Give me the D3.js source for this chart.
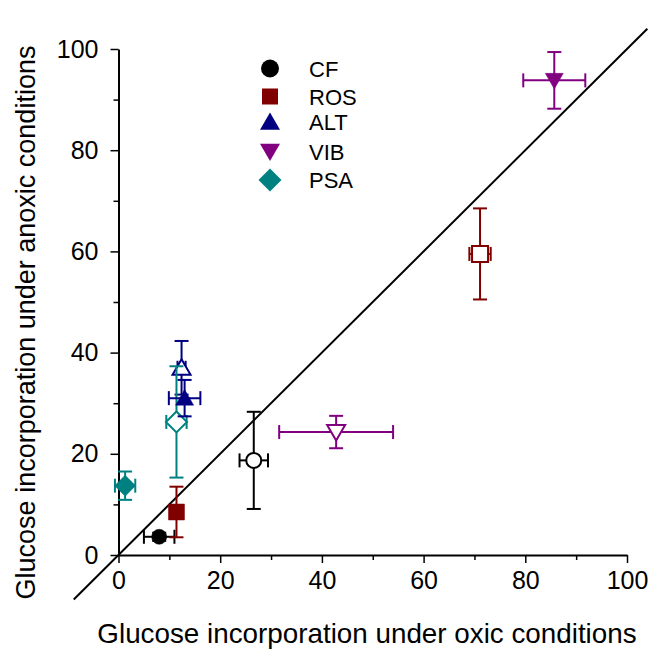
<!DOCTYPE html>
<html>
<head>
<meta charset="utf-8">
<script src="https://cdn.jsdelivr.net/npm/d3@7/dist/d3.min.js"></script>
<style>
  html, body { margin: 0; padding: 0; background: #ffffff; }
  svg { display: block; }
  text { font-family: "Liberation Sans", Arial, sans-serif; fill: #000; }
</style>
</head>
<body>
<svg id="chart" width="652" height="652"></svg>
<script>
// ---- Data ----
const groups = ["CF", "ROS", "ALT", "VIB", "PSA"];
const groupColors = ["#000000", "#800000", "#000080", "#800080", "#008080"];
const groupShapes = ["circle", "square", "triangleUp", "triangleDown", "diamond"];

// Filled symbols
const filledX    = [8.0, 11.4, 13.0, 85.7, 1.3];
const filledXErr = [3.0, 1.0, 3.1, 6.1, 2.0];
const filledY    = [3.6, 8.5, 31.0, 93.8, 13.7];
const filledYErr = [0.8, 5.0, 3.6, 5.6, 2.8];

// Open symbols
const openX    = [26.6, 71.1, 12.4, 42.8, 11.4];
const openXErr = [2.8, 2.1, 0.8, 11.2, 2.0];
const openY    = [18.7, 59.5, 37.0, 24.3, 26.3];
const openYErr = [9.6, 9.0, 5.3, 3.2, 11.0];

const xTicks = [0, 20, 40, 60, 80, 100];
const yTicks = [0, 20, 40, 60, 80, 100];
const xMinorTicks = [10, 30, 50, 70, 90];
const yMinorTicks = [10, 30, 50, 70, 90];
const oneToOne = [-8.8, 104];

const xTitle = "Glucose incorporation under oxic conditions";
const yTitle = "Glucose incorporation under anoxic conditions";

// ---- Layout ----
const svg = d3.select("#chart");
const x = d3.scaleLinear().domain([0, 100]).range([118.5, 627]);
const y = d3.scaleLinear().domain([0, 100]).range([555, 49]);

// custom symbol types (size = width in px)
const shapeTypes = {
  circle: { draw(ctx, s) { const r = s / 2; ctx.moveTo(r, 0); ctx.arc(0, 0, r, 0, 2 * Math.PI); } },
  square: { draw(ctx, s) { const h = s / 2; ctx.rect(-h, -h, s, s); } },
  triangleUp: { draw(ctx, s) { const h = s * Math.sqrt(3) / 2; ctx.moveTo(0, -h * 0.55); ctx.lineTo(s / 2, h * 0.45); ctx.lineTo(-s / 2, h * 0.45); ctx.closePath(); } },
  triangleDown: { draw(ctx, s) { const h = s * Math.sqrt(3) / 2; ctx.moveTo(0, h * 0.55); ctx.lineTo(s / 2, -h * 0.45); ctx.lineTo(-s / 2, -h * 0.45); ctx.closePath(); } },
  diamond: { draw(ctx, s) { const h = s / 2; ctx.moveTo(0, -h); ctx.lineTo(h, 0); ctx.lineTo(0, h); ctx.lineTo(-h, 0); ctx.closePath(); } }
};
const markerSize = { circle: 15, square: 16, triangleUp: 18, triangleDown: 18, diamond: 21 };
const legendSize = { circle: 18, square: 16, triangleUp: 20, triangleDown: 20, diamond: 23 };

// 1:1 line
svg.append("line")
  .attr("x1", x(oneToOne[0])).attr("y1", y(oneToOne[0]))
  .attr("x2", x(oneToOne[1])).attr("y2", y(oneToOne[1]))
  .attr("stroke", "#000").attr("stroke-width", 2);

// Axes
const fontTick = "25px";
const gx = svg.append("g").attr("transform", `translate(0,${y(0)})`)
  .call(d3.axisBottom(x).tickValues(xTicks).tickSize(8).tickSizeOuter(0).tickPadding(8).tickFormat(d3.format("d")));
const gxm = svg.append("g").attr("transform", `translate(0,${y(0)})`)
  .call(d3.axisBottom(x).tickValues(xMinorTicks).tickSize(5).tickSizeOuter(0).tickFormat(""));
const gy = svg.append("g").attr("transform", `translate(${x(0)},0)`)
  .call(d3.axisLeft(y).tickValues(yTicks).tickSize(8).tickSizeOuter(0).tickPadding(12).tickFormat(d3.format("d")));
const gym = svg.append("g").attr("transform", `translate(${x(0)},0)`)
  .call(d3.axisLeft(y).tickValues(yMinorTicks).tickSize(5).tickSizeOuter(0).tickFormat(""));
[gx, gxm, gy, gym].forEach(g => {
  g.selectAll("path.domain").attr("stroke", "#000").attr("stroke-width", 2);
  g.selectAll(".tick line").attr("stroke", "#000").attr("stroke-width", 1.5);
  g.selectAll("text").attr("font-family", "Liberation Sans, Arial, sans-serif").attr("font-size", fontTick).attr("fill", "#000");
});
gxm.select("path.domain").remove();
gym.select("path.domain").remove();

// Axis titles
svg.append("text").attr("x", 367).attr("y", 643).attr("text-anchor", "middle")
  .attr("font-size", "27.8px").text(xTitle);
svg.append("text").attr("transform", "translate(35,322.5) rotate(-90)").attr("text-anchor", "middle")
  .attr("font-size", "27px").text(yTitle);

// Error bars + markers
const cap = 7;
function drawPoint(i, px, py, ex, ey, filled) {
  const col = groupColors[i];
  const g = svg.append("g").attr("class", "pt " + groups[i]);
  const x0 = x(px - ex), x1 = x(px + ex), y0 = y(py - ey), y1 = y(py + ey);
  const cx = x(px), cy = y(py);
  const segs = [
    [x0, cy, x1, cy], [x0, cy - cap, x0, cy + cap], [x1, cy - cap, x1, cy + cap],
    [cx, y0, cx, y1], [cx - cap, y0, cx + cap, y0], [cx - cap, y1, cx + cap, y1]
  ];
  g.selectAll("line").data(segs).join("line")
    .attr("x1", d => d[0]).attr("y1", d => d[1]).attr("x2", d => d[2]).attr("y2", d => d[3])
    .attr("stroke", col).attr("stroke-width", 2);
  const shape = groupShapes[i];
  g.append("path")
    .attr("d", d3.symbol().type(shapeTypes[shape]).size(markerSize[shape])())
    .attr("transform", `translate(${cx},${cy})`)
    .attr("fill", filled ? col : "#ffffff")
    .attr("stroke", col).attr("stroke-width", filled ? 0.5 : 2);
}
groups.forEach((g, i) => drawPoint(i, openX[i], openY[i], openXErr[i], openYErr[i], false));
groups.forEach((g, i) => drawPoint(i, filledX[i], filledY[i], filledXErr[i], filledYErr[i], true));

// Legend
const legendY = [68.5, 96.5, 122, 151.5, 180];
const legend = svg.append("g");
groups.forEach((gname, i) => {
  const shape = groupShapes[i];
  legend.append("path")
    .attr("d", d3.symbol().type(shapeTypes[shape]).size(legendSize[shape])())
    .attr("transform", `translate(270,${legendY[i]})`)
    .attr("fill", groupColors[i]);
  legend.append("text").attr("x", 309).attr("y", legendY[i] + 8)
    .attr("font-size", "22px").text(gname);
});
</script>
</body>
</html>
